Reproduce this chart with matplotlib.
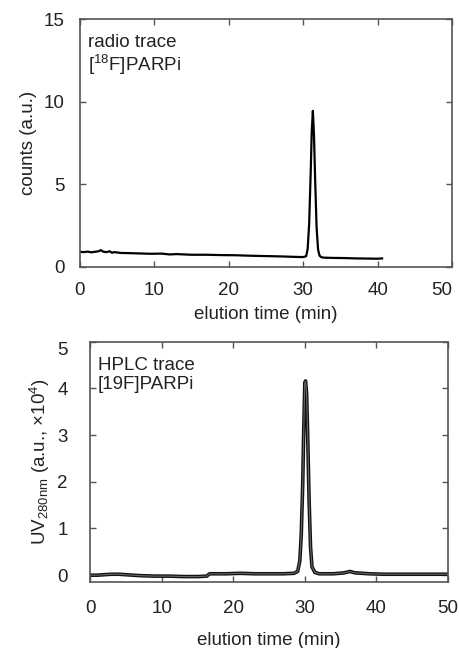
import matplotlib
matplotlib.use("Agg")
import matplotlib.pyplot as plt

plt.rcParams['font.family'] = ['Liberation Sans', 'DejaVu Sans']
plt.rcParams['mathtext.fontset'] = 'custom'
plt.rcParams['mathtext.rm'] = 'Liberation Sans'
plt.rcParams['mathtext.it'] = 'Liberation Sans'

# radio trace ([18F]PARPi), counts in a.u.
radio_t = [0.0, 0.5, 1.0, 1.5, 2.0, 2.5, 2.8, 3.1, 3.5, 4.0, 4.3, 4.6, 5.5, 6.5, 8.0,
           9.5, 11.0, 12.0, 13.0, 15.0, 17.0, 19.0, 21.0, 23.0, 25.0, 27.0, 29.0,
           30.0, 30.4, 30.6, 30.8, 31.0, 31.15, 31.3, 31.45, 31.6, 31.8, 32.0,
           32.2, 32.5, 33.0, 34.0, 35.5, 37.0, 38.5, 40.0, 40.6]
radio_c = [0.92, 0.90, 0.93, 0.89, 0.92, 0.95, 1.02, 0.93, 0.90, 0.95, 0.86, 0.90, 0.85,
           0.84, 0.82, 0.80, 0.81, 0.76, 0.78, 0.74, 0.74, 0.72, 0.71, 0.68, 0.66, 0.64, 0.61,
           0.60, 0.65, 1.10, 2.6, 5.6, 8.2, 9.46, 8.0, 5.4, 2.4, 1.05,
           0.68, 0.58, 0.56, 0.55, 0.54, 0.52, 0.51, 0.50, 0.52]

# HPLC UV trace ([19F]PARPi), x10^4 a.u.
uv_t = [0.0, 1.0, 2.0, 3.0, 4.0, 5.0, 7.0, 9.0, 11.0, 13.0, 15.0, 16.3, 16.7, 17.5,
        19.0, 21.0, 23.0, 25.0, 27.0, 28.5, 29.0, 29.3, 29.5, 29.7, 29.85, 30.0,
        30.1, 30.25, 30.4, 30.6, 30.8, 31.0, 31.4, 32.0, 34.0, 35.5, 36.3, 37.0,
        39.0, 41.0, 43.0, 45.0, 47.0, 49.0, 50.0]
uv_a = [0.00, 0.00, 0.01, 0.02, 0.02, 0.01, -0.01, -0.02, -0.02, -0.03, -0.03, -0.02, 0.03, 0.03,
        0.03, 0.04, 0.03, 0.03, 0.03, 0.04, 0.08, 0.30, 0.85, 1.90, 3.10, 4.10,
        4.16, 3.90, 3.00, 1.60, 0.60, 0.18, 0.06, 0.03, 0.03, 0.05, 0.08, 0.05,
        0.03, 0.02, 0.02, 0.02, 0.02, 0.02, 0.02]

spine_col = '#555555'
text_col = '#222222'
fs = 13.5

fig = plt.figure(figsize=(4.6, 6.48), dpi=100)

# top panel
ax1 = fig.add_axes([0.1739, 0.588, 0.8087, 0.382])
ax1.plot(radio_t, radio_c, color='black', lw=1.6)
ax1.set_xlim(0, 50)
ax1.set_ylim(0, 15)
ax1.set_xticks([0, 10, 20, 30, 40, 50])
ax1.set_yticks([0, 5, 10, 15])
ax1.set_xlabel('elution time (min)', fontsize=fs, color=text_col, labelpad=5)
ax1.set_ylabel('counts (a.u.)', fontsize=fs, color=text_col, labelpad=5)
ax1.text(0.022, 0.94, 'radio trace\n[$^{18}$F]PARPi', transform=ax1.transAxes,
         fontsize=fs, color=text_col, va='top', ha='left', linespacing=1.1)

# bottom panel
ax2 = fig.add_axes([0.1957, 0.1023, 0.7782, 0.3704])
ax2.plot(uv_t, uv_a, color='#111111', lw=2.6)
ax2.plot(uv_t, uv_a, color='#666666', lw=0.8)
ax2.set_xlim(0, 50)
ax2.set_ylim(-0.14, 5.0)
ax2.set_xticks([0, 10, 20, 30, 40, 50])
ax2.set_yticks([0, 1, 2, 3, 4, 5])
ax2.set_xlabel('elution time (min)', fontsize=fs, color=text_col, labelpad=11)
ax2.set_ylabel('UV$_{280nm}$ (a.u., ×10$^4$)', fontsize=fs, color=text_col, labelpad=4)
ax2.text(0.022, 0.935, 'HPLC trace\n[19F]PARPi', transform=ax2.transAxes,
         fontsize=fs, color=text_col, va='top', ha='left', linespacing=1.1)

for ax, ypad, xpad in [(ax1, 11, 11), (ax2, 16, 13)]:
    for s in ax.spines.values():
        s.set_color(spine_col)
        s.set_linewidth(1.2)
    ax.tick_params(axis='both', direction='in', top=True, right=True,
                   length=4, width=1.0, color=spine_col, labelsize=fs,
                   labelcolor=text_col)
    ax.tick_params(axis='y', pad=ypad)
    ax.tick_params(axis='x', pad=xpad)

# tweak edge labels like in the original
fig.canvas.draw()
ax2.get_yticklabels()[-1].set_va('top')
ax1.get_xticklabels()[-1].set_ha('right')

fig.savefig('out.png', dpi=100)
